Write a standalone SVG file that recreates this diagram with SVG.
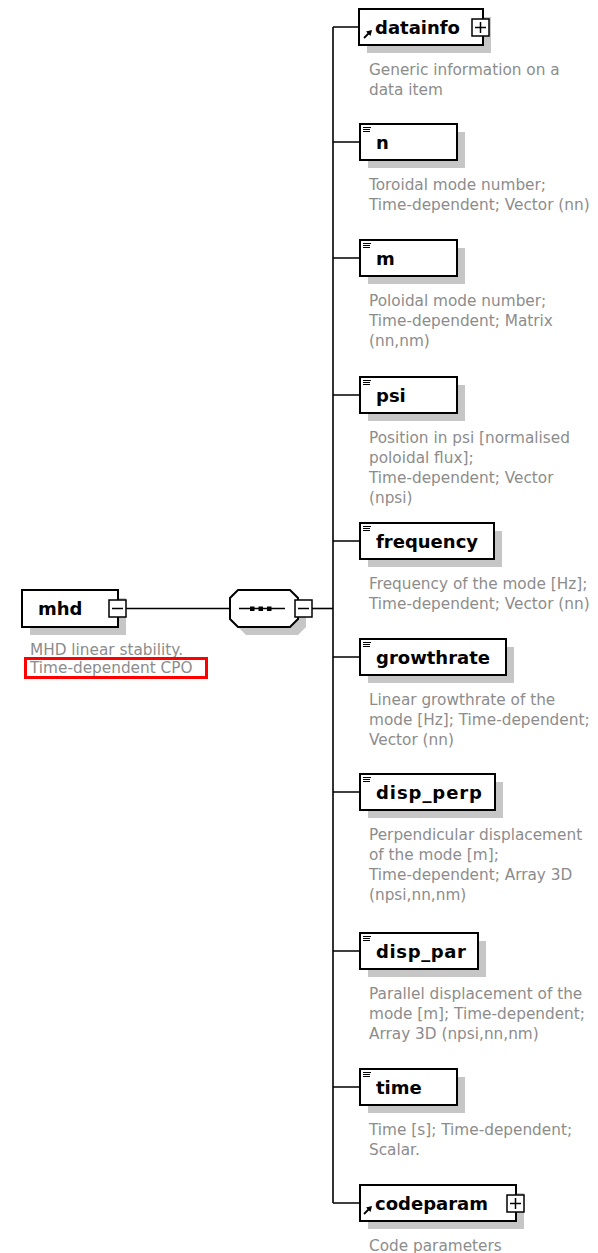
<svg xmlns="http://www.w3.org/2000/svg" xmlns:xlink="http://www.w3.org/1999/xlink" width="598" height="1253" viewBox="0 0 598 1253">
  <style>
    .box{fill:#fff;stroke:#000;stroke-width:2}
    .shadow{fill:#c6c6c6}
    .lbl{font-family:"DejaVu Sans",Verdana,sans-serif;font-weight:bold;font-size:18px;fill:#000}
    .desc{font-family:"DejaVu Sans",Verdana,sans-serif;font-size:15.3px;fill:#8c8c8c}
    .conn{stroke:#000;stroke-width:1.6;fill:none}
    .tog{fill:#fff;stroke:#000;stroke-width:1.5}
    .sign{stroke:#000;stroke-width:1.5;fill:none}
    .icon{stroke:#000;stroke-width:1;fill:none}
  </style>
  <defs>
    <!-- simple-content element marker (three bars) -->
    <g id="bars">
      <path class="icon" d="M0,0.5H8M0,2.5H7M0,4.5H7"/>
    </g>
    <!-- reference marker (small up-right arrow) -->
    <g id="refarrow">
      <path d="M0,8 L5,3" stroke="#000" stroke-width="1.8"/>
      <polygon points="8,0 2,1.5 6.5,6" fill="#000"/>
    </g>
    <!-- expand / collapse toggles -->
    <g id="plus">
      <rect class="tog" x="0" y="0" width="17" height="17"/>
      <path class="sign" d="M3,8.5H14M8.5,3V14"/>
    </g>
    <g id="minus">
      <rect class="tog" x="0" y="0" width="17" height="17"/>
      <path class="sign" d="M3,8.5H14"/>
    </g>
  </defs>

  <!-- connectors -->
  <g id="connectors">
    <path class="conn" d="M126,608.5H230"/>
    <path class="conn" d="M312,608.5H333"/>
    <path class="conn" d="M333,27V1203"/>
    <path class="conn" d="M333,27H360M333,142H360M333,258H360M333,395H360M333,541H360M333,657H360M333,792H360M333,951H360M333,1087H360M333,1203H360"/>
  </g>

  <!-- root element -->
  <g id="node-mhd">
    <rect class="shadow" x="30" y="598" width="96" height="37"/>
    <rect class="box" x="22" y="590" width="96" height="37"/>
    <text class="lbl" x="38" y="615">mhd</text>
    <use xlink:href="#minus" x="109" y="600"/>
    <text class="desc" x="30" y="655">MHD linear stability.</text>
    <text class="desc" x="30" y="673">Time-dependent CPO</text>
    <rect x="25.5" y="658.5" width="181" height="19" fill="none" stroke="#f00" stroke-width="3"/>
  </g>

  <!-- sequence compositor -->
  <g id="node-sequence">
    <path class="shadow" d="M246,598H298L306,606V627L298,635H246L238,627V606Z"/>
    <path class="box" d="M238,590H290L298,598V619L290,627H238L230,619V598Z"/>
    <path class="conn" d="M239,608.5H285"/>
    <rect x="250" y="606.5" width="4.5" height="4.5" fill="#000"/>
    <rect x="258.5" y="606.5" width="4.5" height="4.5" fill="#000"/>
    <rect x="267" y="606.5" width="4.5" height="4.5" fill="#000"/>
    <use xlink:href="#minus" x="295" y="600"/>
  </g>

  <!-- child elements -->
  <g id="node-datainfo">
    <rect class="shadow" x="367" y="17" width="124" height="36"/>
    <rect class="box" x="359" y="9" width="124" height="36"/>
    <use xlink:href="#refarrow" x="364" y="30"/>
    <text class="lbl" x="375" y="34">datainfo</text>
    <use xlink:href="#plus" x="472" y="19"/>
    <text class="desc" x="369" y="75">Generic information on a</text>
    <text class="desc" x="369" y="95">data item</text>
  </g>

  <g id="node-n">
    <rect class="shadow" x="368" y="132" width="97" height="36"/>
    <rect class="box" x="360" y="124" width="97" height="36"/>
    <use xlink:href="#bars" x="363" y="127"/>
    <text class="lbl" x="376" y="149">n</text>
    <text class="desc" x="369" y="190">Toroidal mode number;</text>
    <text class="desc" x="369" y="210">Time-dependent; Vector (nn)</text>
  </g>

  <g id="node-m">
    <rect class="shadow" x="368" y="248" width="97" height="36"/>
    <rect class="box" x="360" y="240" width="97" height="36"/>
    <use xlink:href="#bars" x="363" y="243"/>
    <text class="lbl" x="376" y="265">m</text>
    <text class="desc" x="369" y="306">Poloidal mode number;</text>
    <text class="desc" x="369" y="326">Time-dependent; Matrix</text>
    <text class="desc" x="369" y="346">(nn,nm)</text>
  </g>

  <g id="node-psi">
    <rect class="shadow" x="368" y="385" width="97" height="36"/>
    <rect class="box" x="360" y="377" width="97" height="36"/>
    <use xlink:href="#bars" x="363" y="380"/>
    <text class="lbl" x="376" y="402">psi</text>
    <text class="desc" x="369" y="443">Position in psi [normalised</text>
    <text class="desc" x="369" y="463">poloidal flux];</text>
    <text class="desc" x="369" y="483">Time-dependent; Vector</text>
    <text class="desc" x="369" y="503">(npsi)</text>
  </g>

  <g id="node-frequency">
    <rect class="shadow" x="368" y="531" width="134" height="36"/>
    <rect class="box" x="360" y="523" width="134" height="36"/>
    <use xlink:href="#bars" x="363" y="526"/>
    <text class="lbl" x="376" y="548">frequency</text>
    <text class="desc" x="369" y="589">Frequency of the mode [Hz];</text>
    <text class="desc" x="369" y="609">Time-dependent; Vector (nn)</text>
  </g>

  <g id="node-growthrate">
    <rect class="shadow" x="368" y="647" width="146" height="36"/>
    <rect class="box" x="360" y="639" width="146" height="36"/>
    <use xlink:href="#bars" x="363" y="642"/>
    <text class="lbl" x="376" y="664">growthrate</text>
    <text class="desc" x="369" y="705">Linear growthrate of the</text>
    <text class="desc" x="369" y="725">mode [Hz]; Time-dependent;</text>
    <text class="desc" x="369" y="745">Vector (nn)</text>
  </g>

  <g id="node-disp_perp">
    <rect class="shadow" x="368" y="782" width="135" height="36"/>
    <rect class="box" x="360" y="774" width="135" height="36"/>
    <use xlink:href="#bars" x="363" y="777"/>
    <text class="lbl" x="376" y="799" textLength="106" lengthAdjust="spacing">disp_perp</text>
    <text class="desc" x="369" y="840">Perpendicular displacement</text>
    <text class="desc" x="369" y="860">of the mode [m];</text>
    <text class="desc" x="369" y="880">Time-dependent; Array 3D</text>
    <text class="desc" x="369" y="900">(npsi,nn,nm)</text>
  </g>

  <g id="node-disp_par">
    <rect class="shadow" x="368" y="941" width="118" height="36"/>
    <rect class="box" x="360" y="933" width="118" height="36"/>
    <use xlink:href="#bars" x="363" y="936"/>
    <text class="lbl" x="376" y="958" textLength="90" lengthAdjust="spacing">disp_par</text>
    <text class="desc" x="369" y="999">Parallel displacement of the</text>
    <text class="desc" x="369" y="1019">mode [m]; Time-dependent;</text>
    <text class="desc" x="369" y="1039">Array 3D (npsi,nn,nm)</text>
  </g>

  <g id="node-time">
    <rect class="shadow" x="368" y="1077" width="97" height="36"/>
    <rect class="box" x="360" y="1069" width="97" height="36"/>
    <use xlink:href="#bars" x="363" y="1072"/>
    <text class="lbl" x="376" y="1094">time</text>
    <text class="desc" x="369" y="1135">Time [s]; Time-dependent;</text>
    <text class="desc" x="369" y="1155">Scalar.</text>
  </g>

  <g id="node-codeparam">
    <rect class="shadow" x="368" y="1193" width="156" height="36"/>
    <rect class="box" x="360" y="1185" width="156" height="36"/>
    <use xlink:href="#refarrow" x="364" y="1206"/>
    <text class="lbl" x="375" y="1210">codeparam</text>
    <use xlink:href="#plus" x="507" y="1195"/>
    <text class="desc" x="369" y="1251">Code parameters</text>
  </g>
</svg>
